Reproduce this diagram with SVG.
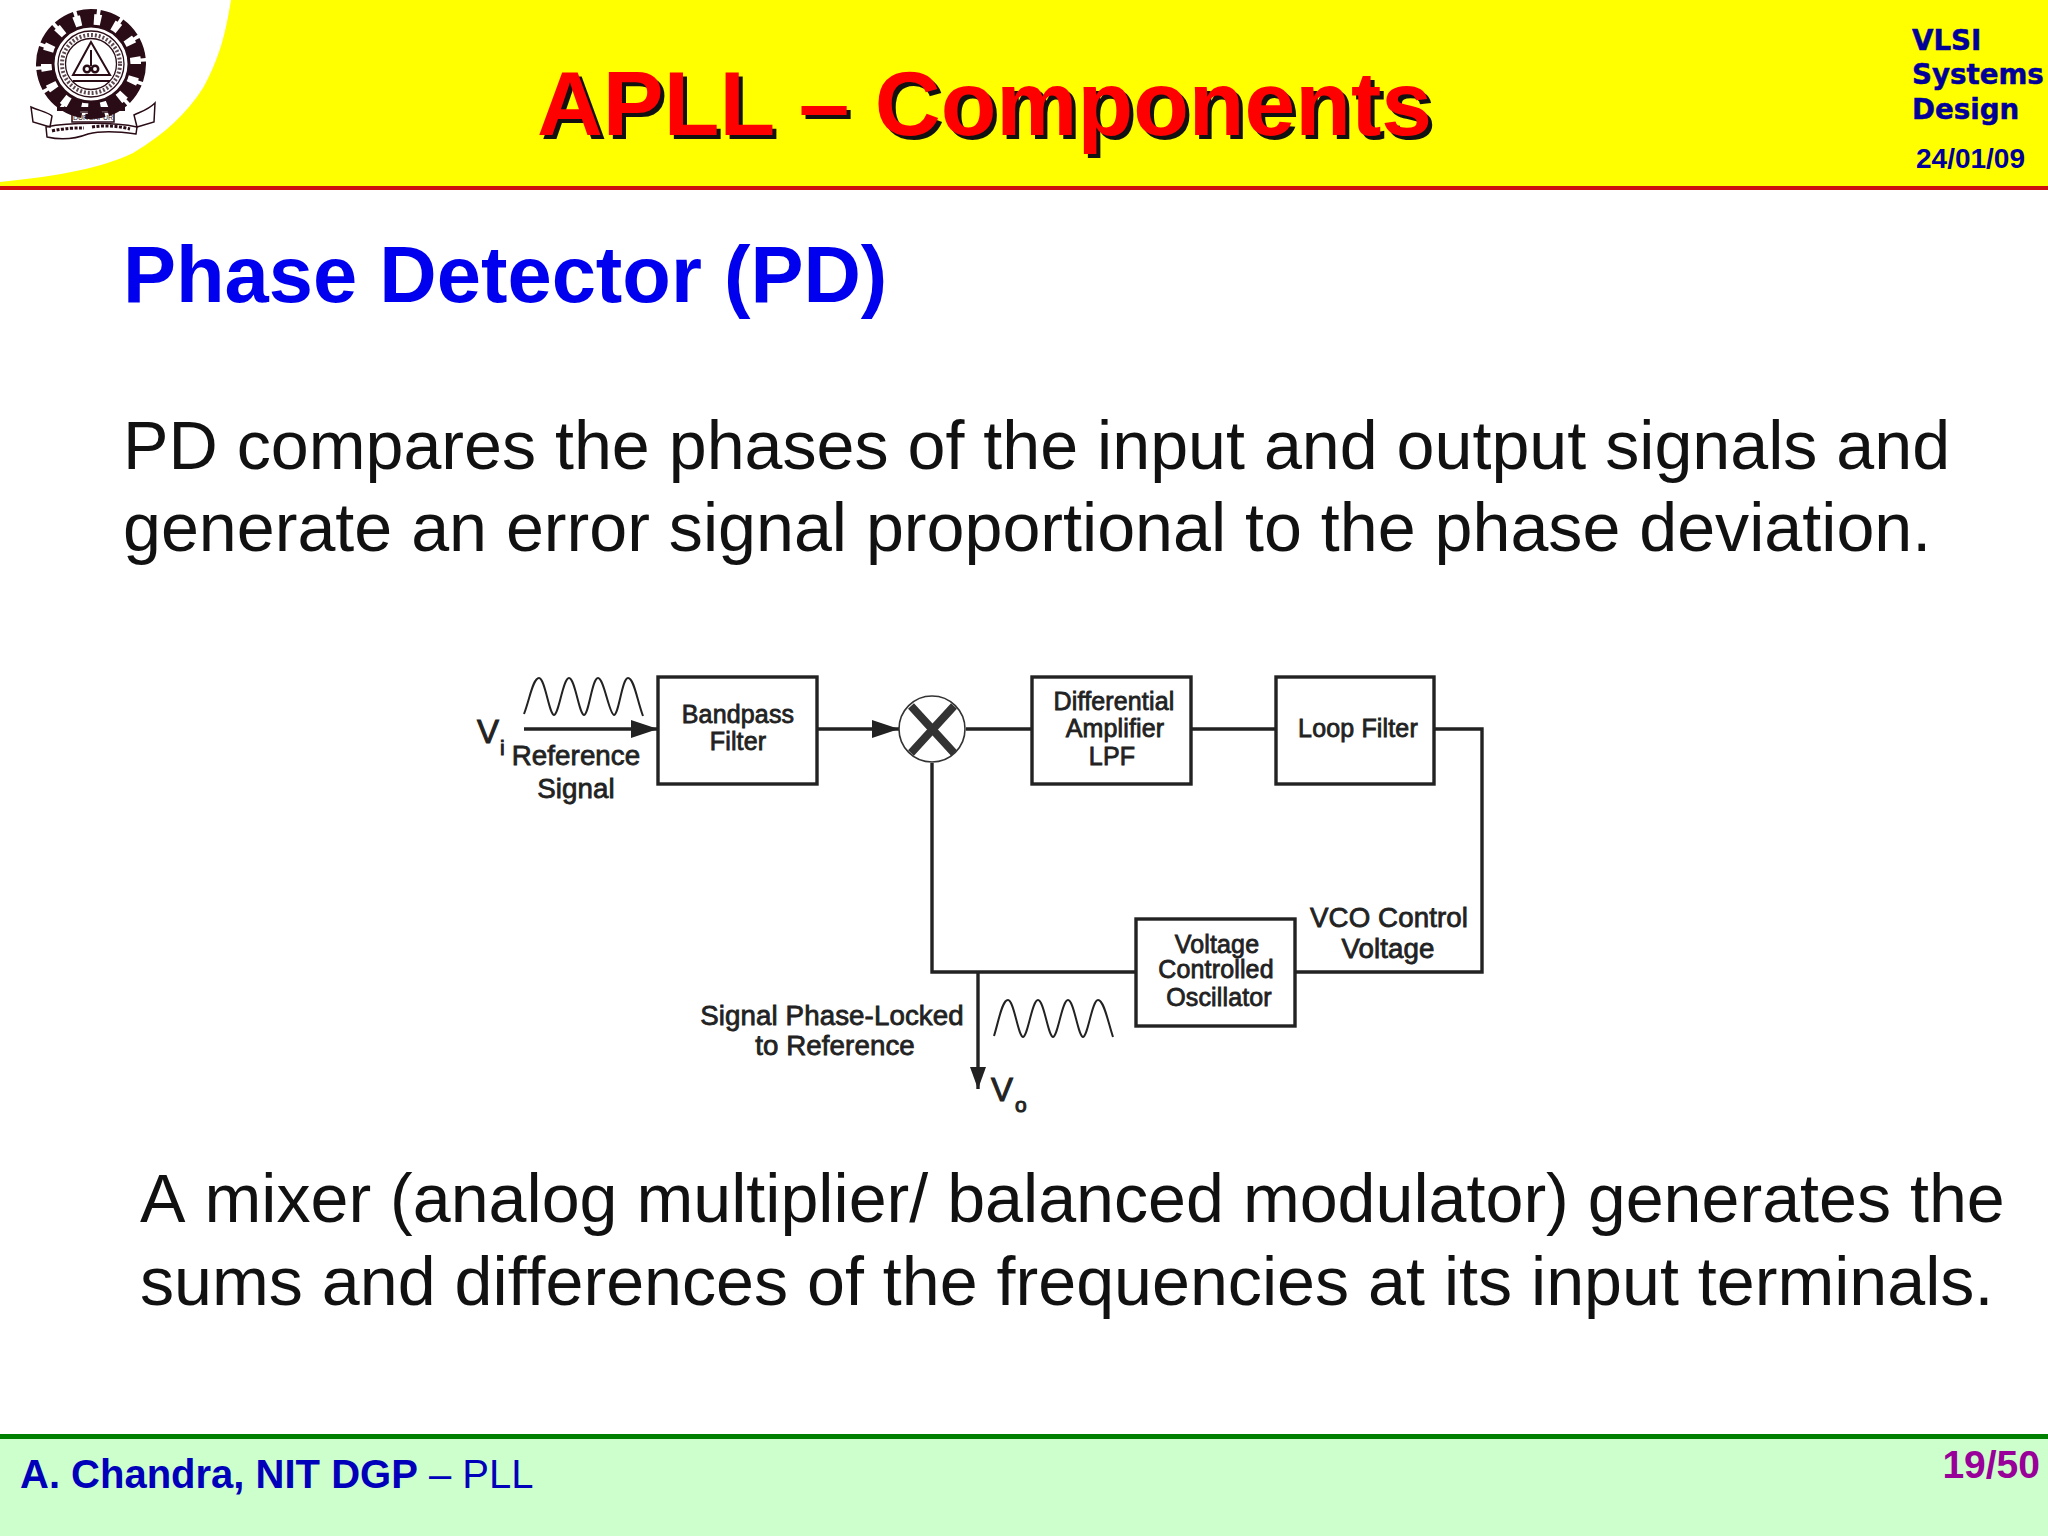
<svg xmlns="http://www.w3.org/2000/svg" width="2048" height="1536" viewBox="0 0 2048 1536">
<style>
text{font-family:"Liberation Sans",Arial,sans-serif}
.body{font-size:68.2px;fill:#111;font-kerning:none}
.box{fill:#fff;stroke:#222;stroke-width:3.4}
.wire{fill:none;stroke:#222;stroke-width:3.4}
.wave{fill:none;stroke:#222;stroke-width:2}
.bl{font-size:25px;fill:#222;stroke:#222;stroke-width:.8;text-anchor:middle;letter-spacing:.15px}
.lb{font-size:27.7px;fill:#222;stroke:#222;stroke-width:.8;text-anchor:middle;letter-spacing:.1px}
.sym{font-size:33px;fill:#222;stroke:#222;stroke-width:1}
.sub{font-size:21px;fill:#222;stroke:#222;stroke-width:1}
.side{font-family:"DejaVu Sans",sans-serif;font-weight:700;font-size:27.7px;fill:#000099;stroke:#000099;stroke-width:.5}
.title{font-size:91.2px;font-weight:700}
.lg{fill:none;stroke:#2a0c16}
</style>
<defs>
<marker id="ah" viewBox="0 0 27 18" refX="27" refY="9" markerUnits="userSpaceOnUse" markerWidth="27" markerHeight="18" orient="auto"><path d="M0 0L27 9L0 18Z" fill="#222"/></marker>
<marker id="ah2" viewBox="0 0 22 16" refX="22" refY="8" markerUnits="userSpaceOnUse" markerWidth="22" markerHeight="16" orient="auto"><path d="M0 0L22 8L0 16Z" fill="#222"/></marker>
</defs>

<g id="header">
<rect x="0" y="0" width="2048" height="187" fill="#ffff00"/>
<path d="M0 0H231C226 30 221 55 203 88C187 113 165 134 133 153C105 167 60 176 0 182Z" fill="#fff"/>
<rect x="0" y="186" width="2048" height="4" fill="#cc0f0f"/>
<text class="title" x="541" y="139" fill="#111">APLL – Components</text>
<text class="title" x="537" y="135" fill="#ff0000">APLL – Components</text>
<text class="side" x="1912" y="50">VLSI</text>
<text class="side" x="1912" y="84">Systems</text>
<text class="side" x="1912" y="119">Design</text>
<text x="1916" y="168" font-size="28" font-weight="700" fill="#000099">24/01/09</text>
</g>

<g id="logo">
<circle class="lg" cx="91" cy="64" r="45" stroke-width="15" pathLength="140" stroke-dasharray="6.5 3.5"/>
<circle class="lg" cx="91" cy="64" r="52.5" stroke-width="5" pathLength="140" stroke-dasharray="8.5 1.5" stroke-dashoffset="1"/>
<circle class="lg" cx="91" cy="64" r="38" stroke-width="3"/>
<circle cx="91" cy="64" r="35" fill="#fff"/>
<circle class="lg" cx="91" cy="64" r="33" stroke-width="1.3"/>
<circle class="lg" cx="91" cy="64" r="29" stroke-width="4" pathLength="140" stroke-dasharray="1.5 1.5" opacity=".75"/>
<circle class="lg" cx="91" cy="64" r="25.5" stroke-width="1.3"/>
<path class="lg" d="M91 42L73 75H110Z M73 81H110" stroke-width="2"/>
<circle class="lg" cx="87" cy="69" r="3.2" stroke-width="2.5"/><circle class="lg" cx="95" cy="69" r="3.2" stroke-width="2.5"/>
<path class="lg" d="M91 50V66" stroke-width="2"/>
<rect x="57" y="107" width="68" height="4" fill="#2a0c16"/>
<path class="lg" d="M72 112H114V122H72Z" stroke-width="1.5"/>
<path class="lg" d="M31 107C40 111 48 112 52 116L50 127L33 122Z M155 103C148 110 140 112 134 115L137 127L154 122Z" stroke-width="1.5"/>
<path class="lg" d="M46 127C70 122 115 122 137 127L136 134C115 131 100 131 88 134C75 139 60 140 47 137Z" stroke-width="1.5"/>
<path class="lg" d="M52 131C65 128 75 128 84 128M92 127C105 125 118 126 130 129" stroke-width="3" stroke-dasharray="3 1.5"/>
<text x="93" y="120" font-size="7" text-anchor="middle" fill="#2a0c16">DURGAPUR</text>
</g>

<g id="slide-text">
<text x="123" y="302" font-size="79.5" font-weight="700" fill="#0000ee">Phase Detector (PD)</text>
<text class="body" x="123" y="469">PD compares the phases of the input and output signals and</text>
<text class="body" x="123" y="551">generate an error signal proportional to the phase deviation.</text>
<text class="body" x="140" y="1222">A mixer (analog multiplier/ balanced modulator) generates the</text>
<text class="body" x="140" y="1305">sums and differences of the frequencies at its input terminals.</text>
</g>

<g id="connectors">
<path class="wire" d="M524 729H658" marker-end="url(#ah)"/>
<path class="wire" d="M817 729H899" marker-end="url(#ah)"/>
<path class="wire" d="M966 729H1032"/>
<path class="wire" d="M1191 729H1276"/>
<path class="wire" d="M1434 729H1482V972H1295"/>
<path class="wire" d="M1136 972H932V763"/>
<path class="wire" d="M978 972V1089" marker-end="url(#ah2)"/>
</g>

<g id="waves">
<path class="wave" d="M524 714C530 698 533 678 539 678C545 678 549 714 554 715C559 714 563 678 569 678C575 678 579 714 584 715C589 714 592 678 598 678C604 678 609 714 614 715C619 714 622 678 628 678C634 678 637 700 643 716"/>
<path class="wave" d="M994 1036C999 1020 1002 1000 1008 1000C1014 1000 1018 1036 1023 1037C1028 1036 1032 1000 1038 1000C1044 1000 1048 1036 1053 1037C1058 1036 1062 1000 1068 1000C1074 1000 1078 1036 1083 1037C1088 1036 1092 1000 1098 1000C1104 1000 1108 1022 1113 1037"/>
</g>

<g id="bandpass">
<rect class="box" x="658" y="677" width="159" height="107"/>
<text class="bl" x="738" y="723">Bandpass</text>
<text class="bl" x="738" y="750">Filter</text>
</g>
<g id="mixer">
<circle cx="932" cy="729" r="33" fill="#fff" stroke="#333" stroke-width="1.6"/>
<path d="M911 706L954 753M954 706L911 753" fill="none" stroke="#333" stroke-width="8"/>
</g>
<g id="differential-amplifier">
<rect class="box" x="1032" y="677" width="159" height="107"/>
<text class="bl" x="1114" y="710">Differential</text>
<text class="bl" x="1115" y="737">Amplifier</text>
<text class="bl" x="1112" y="765">LPF</text>
</g>
<g id="loop-filter">
<rect class="box" x="1276" y="677" width="158" height="107"/>
<text class="bl" x="1358" y="737">Loop Filter</text>
</g>
<g id="vco">
<rect class="box" x="1136" y="919" width="159" height="107"/>
<text class="bl" x="1217" y="953">Voltage</text>
<text class="bl" x="1216" y="978">Controlled</text>
<text class="bl" x="1219" y="1006">Oscillator</text>
</g>

<g id="labels">
<text class="sym" x="477" y="743">V</text>
<text class="sub" x="500" y="755">i</text>
<text class="lb" x="576" y="765">Reference</text>
<text class="lb" x="576" y="798">Signal</text>
<text class="lb" x="832" y="1025">Signal Phase-Locked</text>
<text class="lb" x="835" y="1055">to Reference</text>
<text class="lb" x="1389" y="927">VCO Control</text>
<text class="lb" x="1388" y="958">Voltage</text>
<text class="sym" x="991" y="1101">V</text>
<text class="sub" x="1015" y="1112">o</text>
</g>

<g id="footer">
<rect x="0" y="1436" width="2048" height="100" fill="#ccffcc"/>
<rect x="0" y="1434" width="2048" height="5" fill="#008000"/>
<text x="20" y="1488" font-size="40" fill="#0000bb"><tspan font-weight="700">A. Chandra, NIT DGP</tspan> – PLL</text>
<text x="2040" y="1478" font-size="39" font-weight="700" fill="#990099" text-anchor="end">19/50</text>
</g>
</svg>
